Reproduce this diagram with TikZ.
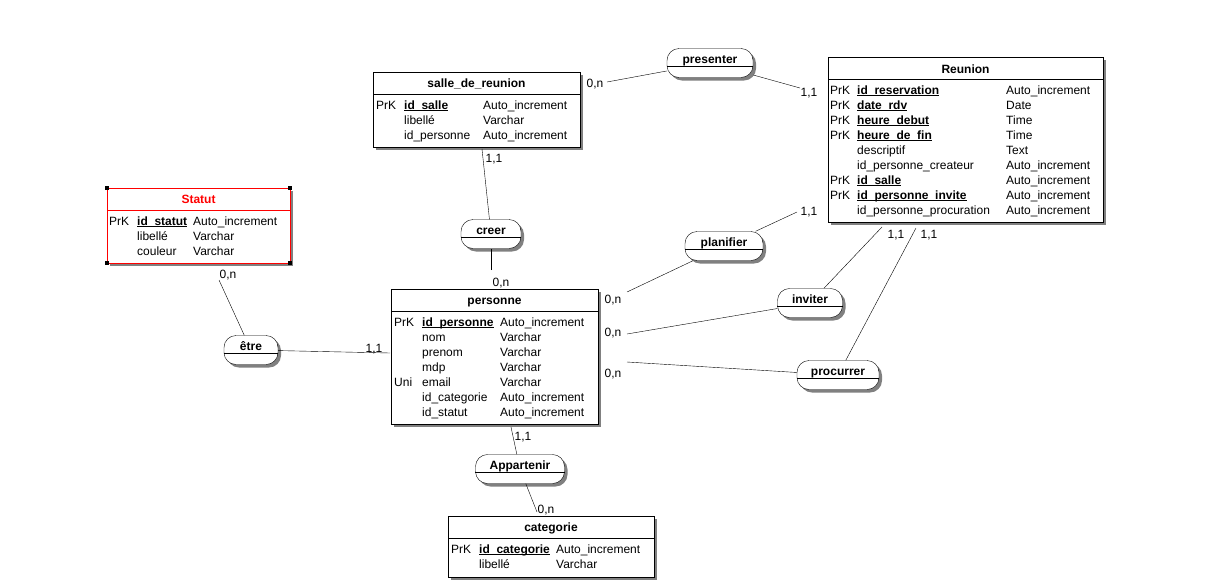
\documentclass[tikz,border=0pt]{standalone}
\usepackage{fontspec}
\setmainfont{Liberation Sans}
\usetikzlibrary{shadows}
\newcommand{\cle}[1]{\setbox0=\hbox{\textbf{#1}}\rlap{\vrule width\wd0 height -1.4pt depth 2.4pt}\box0}
\tikzset{
  ombre/.style={drop shadow={shadow xshift=3pt, shadow yshift=-3pt, draw=none, fill=black!50, opacity=1}},
  entite/.style={draw, fill=white, anchor=north west, inner sep=0, ombre},
  relation/.style={draw, fill=white, rounded corners=12pt, inner sep=0, minimum height=29, ombre},
  titre/.style={font=\fontsize{12}{14}\selectfont\bfseries, inner sep=0, text height=11pt, text depth=1pt},
  champ/.style={anchor=west, inner sep=0, text height=11pt, text depth=1pt},
  carte/.style={inner sep=0, text height=11pt, text depth=1pt},
}

\begin{document}
\begin{tikzpicture}[x=1pt, y=-1pt, font=\fontsize{12}{14}\selectfont]
\useasboundingbox (0,0) rectangle (1216,587);

    %% entites
    \node[entite, minimum width=207, minimum height=75] (salle) at (373,72) {};
    \node[titre] (salle-t) at (476.5,82) {salle\_de\_reunion};
    \draw (373,94) -- (580,94);
    \foreach \k/\n/\t [count=\i from 0] in {PrK/\cle{id\_salle}/Auto\_increment,
      {}/libellé/Varchar, {}/id\_personne/Auto\_increment}
    { \node[champ] (salle-k\i) at (376,104+15*\i) {\k};
      \node[champ] (salle-n\i) at (404,104+15*\i) {\n};
      \node[champ] (salle-t\i) at (483,104+15*\i) {\t};}

    \node[entite, minimum width=275, minimum height=165] (reunion) at (828,57) {};
    \node[titre] (reunion-t) at (965.5,68) {Reunion};
    \draw (828,79) -- (1103,79);
    \foreach \k/\n/\t [count=\i from 0] in {PrK/\cle{id\_reservation}/Auto\_increment,
      PrK/\cle{date\_rdv}/Date, PrK/\cle{heure\_debut}/Time, PrK/\cle{heure\_de\_fin}/Time,
      {}/descriptif/Text, {}/id\_personne\_createur/Auto\_increment,
      PrK/\cle{id\_salle}/Auto\_increment, PrK/\cle{id\_personne\_invite}/Auto\_increment,
      {}/id\_personne\_procuration/Auto\_increment}
    { \node[champ] (reunion-k\i) at (830,89+15*\i) {\k};
      \node[champ] (reunion-n\i) at (857,89+15*\i) {\n};
      \node[champ] (reunion-t\i) at (1006,89+15*\i) {\t};}

    \node[entite, minimum width=183, minimum height=75] (statut) at (107,188) {};
    \draw[red] (statut.north west) rectangle (statut.south east);
    \node[titre, red] (statut-t) at (198.5,198) {Statut};
    \draw[red] (107,210) -- (290,210);
    \foreach \c in {north west, north east, south west, south east}
    { \fill (statut.\c) +(-2,-2) rectangle +(2,2);}
    \foreach \k/\n/\t [count=\i from 0] in {PrK/\cle{id\_statut}/Auto\_increment,
      {}/libellé/Varchar, {}/couleur/Varchar}
    { \node[champ] (statut-k\i) at (109,220+15*\i) {\k};
      \node[champ] (statut-n\i) at (137,220+15*\i) {\n};
      \node[champ] (statut-t\i) at (193,220+15*\i) {\t};}

    \node[entite, minimum width=207, minimum height=135] (personne) at (391,289) {};
    \node[titre] (personne-t) at (494.5,299) {personne};
    \draw (391,311) -- (598,311);
    \foreach \k/\n/\t [count=\i from 0] in {PrK/\cle{id\_personne}/Auto\_increment,
      {}/nom/Varchar, {}/prenom/Varchar, {}/mdp/Varchar, Uni/email/Varchar,
      {}/id\_categorie/Auto\_increment, {}/id\_statut/Auto\_increment}
    { \node[champ] (personne-k\i) at (394,321+15*\i) {\k};
      \node[champ] (personne-n\i) at (422,321+15*\i) {\n};
      \node[champ] (personne-t\i) at (500,321+15*\i) {\t};}

    \node[entite, minimum width=206, minimum height=61] (categorie) at (448,516) {};
    \node[titre] (categorie-t) at (551,526) {categorie};
    \draw (448,538) -- (654,538);
    \foreach \k/\n/\t [count=\i from 0] in {PrK/\cle{id\_categorie}/Auto\_increment,
      {}/libellé/Varchar}
    { \node[champ] (categorie-k\i) at (451,548+15*\i) {\k};
      \node[champ] (categorie-n\i) at (479,548+15*\i) {\n};
      \node[champ] (categorie-t\i) at (556,548+15*\i) {\t};}

    %% associations
    \foreach \nom/\txt/\x/\y/\w in {presenter/presenter/710/63/86, creer/creer/491/234/60,
      planifier/planifier/724/246/78, inviter/inviter/810/303/65,
      procurrer/procurrer/838/375/82, etre/être/251/350/54,
      appartenir/Appartenir/520/469/89}
    { \node[relation, minimum width=\w] (\nom) at (\x,\y) {};
      \node[titre] (\nom-t) at ([yshift=5pt]\nom.center) {\txt};
      \draw ([yshift=-3pt]\nom.west) -- ([yshift=-3pt]\nom.east);}

    %% pattes et cardinalites
    \foreach \c/\r/\x/\y/\lx/\ly/\card in {sp/presenter/607/82/595/82/{0,n},
      pr/presenter/800/88/809/91/{1,1}, sc/creer/482/149/494/157/{1,1},
      pc/creer/491/270/501/281/{0,n}, rpl/planifier/797/212/809/210/{1,1},
      ppl/planifier/627/292/613/298/{0,n}, ri/inviter/882/227/896/233/{1,1},
      pi/inviter/627/334/613/331/{0,n}, rpr/procurrer/916/228/929/233/{1,1},
      ppr/procurrer/627/362/613/372/{0,n}, se/etre/219/280/228/273/{0,n},
      pe/etre/390/353/374/347/{1,1}, pa/appartenir/511/427/523/435/{1,1},
      ca/appartenir/537/512/546/508/{0,n}}
    { \coordinate (\c) at (\x,\y);
      \draw (\c) -- (\r);
      \node[carte] (\c-l) at (\lx,\ly) {\card};}

\end{tikzpicture}
\end{document}
